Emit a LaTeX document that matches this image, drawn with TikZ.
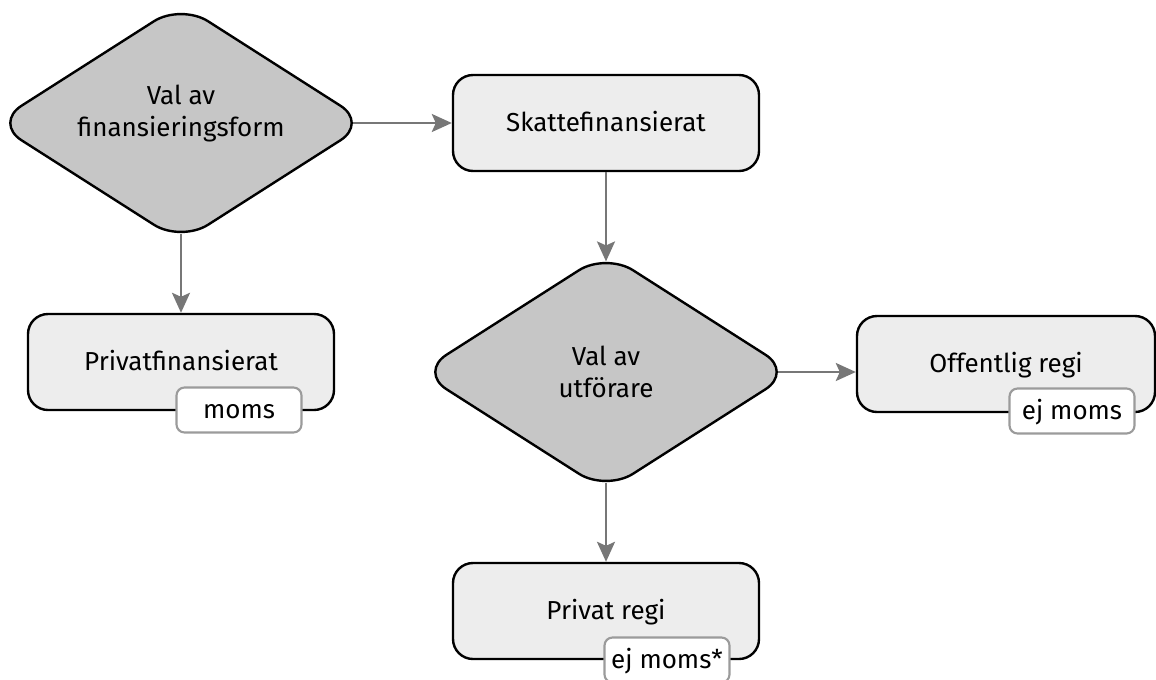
\documentclass[tikz,border=0pt]{standalone}
\usepackage{fontspec}
\setmainfont{Fira Sans}
\usetikzlibrary{shapes.geometric,arrows.meta}

\definecolor{choicefill}{RGB}{198,198,198}
\definecolor{boxfill}{RGB}{237,237,237}
\definecolor{flowgray}{RGB}{119,119,119}
\definecolor{tagline}{RGB}{155,155,155}

\tikzset{
  every node/.style={font=\fontsize{19.5}{24}\selectfont},
  choice/.style={diamond, aspect=1.56, draw, line width=1.8pt, fill=choicefill, rounded corners=24pt,
    minimum width=280.5pt, minimum height=179.25pt, inner sep=0pt, align=center},
  box/.style={rectangle, draw, line width=1.8pt, fill=boxfill, rounded corners=15pt,
    minimum width=229.5pt, minimum height=72pt, text height=13.4pt, text depth=0pt},
  tag/.style={rectangle, draw=tagline, line width=1.6pt, fill=white, rounded corners=6pt,
    minimum width=93.75pt, minimum height=33.75pt, inner sep=0pt, text height=13.4pt, text depth=0pt},
  flow/.style={draw=flowgray, line width=1.8pt, -{Stealth[length=15pt,width=13.5pt,inset=3pt]}}
}

\begin{document}
\begin{tikzpicture}[x=0.75pt,y=0.75pt,yscale=-1,xscale=1]
\useasboundingbox (0,0) rectangle (1156,679);

% Decisions
\node [choice, text depth=19pt] (finval) at (181,123) {Val av\\finansieringsform};
\node [choice] (utfval) at (606,372) {Val av\\utförare};

% Boxes
\node [box] (skatt) at (606,123) {Skattefinansierat};
\node [box] (privfin) at (181,362) {Privatfinansierat};
\node [box, minimum width=223.5pt] (offregi) at (1006,364) {Offentlig regi};
\node [box] (privregi) at (606,611) {Privat regi};

% Tags
\node [tag] (momstag) at (239,410) {moms};
\node [tag] (offtag) at (1072,411) {ej moms};
\node [tag] (privtag) at (667,660) {ej moms*};

% Arrows
\draw [flow] ([xshift=-12pt]finval.east) -- (skatt.west);
\draw [flow] ([yshift=-7.6pt]finval.south) -- (privfin.north);
\draw [flow] (skatt.south) -- ([yshift=7.6pt]utfval.north);
\draw [flow] ([xshift=-12pt]utfval.east) -- (utfval.east -| offregi.west);
\draw [flow] ([yshift=-7.6pt]utfval.south) -- (privregi.north);

\end{tikzpicture}
\end{document}
